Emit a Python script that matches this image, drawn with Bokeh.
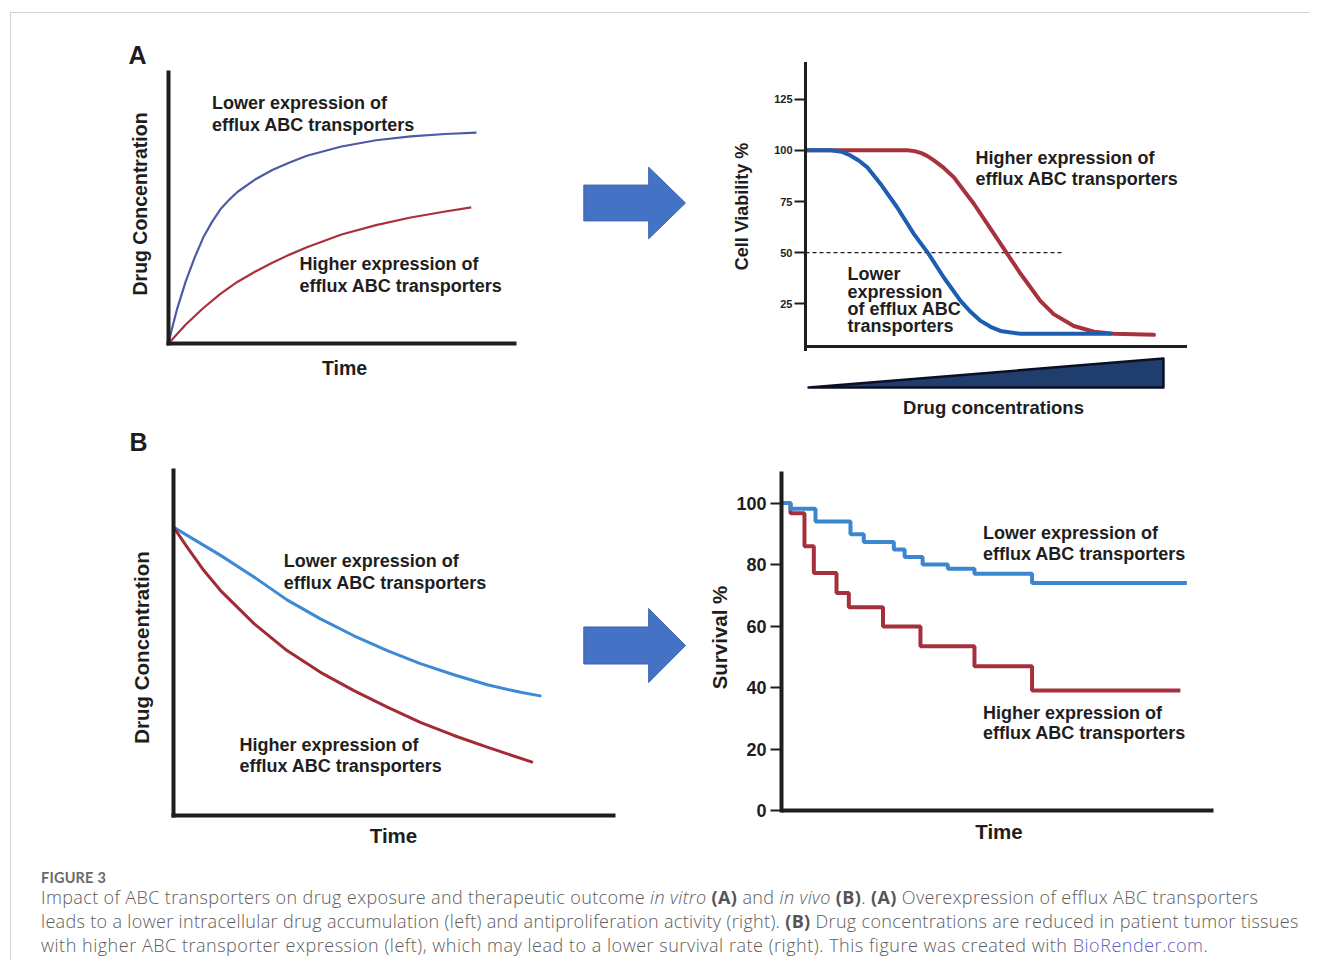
import math
from bokeh.plotting import figure
from bokeh.models import Range1d, Label, FixedTicker, Spacer, Div
from bokeh.layouts import row, column
from bokeh.embed import file_html
from bokeh.resources import INLINE

# ======================= DATA =======================
# Panel A (left): intracellular drug concentration vs time (relative units)
A_TIME_LOWER = [0, 0.1, 0.25, 0.5, 0.75, 1, 1.25, 1.5, 1.75, 2, 2.5, 3, 3.5, 4, 5, 6, 7, 8, 8.9]
A_CONC_LOWER = [0, 0.054, 0.128, 0.23, 0.315, 0.39, 0.447, 0.495, 0.53, 0.56, 0.605, 0.64, 0.668, 0.693, 0.727, 0.75, 0.764, 0.773, 0.778]
A_TIME_HIGHER = [0, 0.5, 1, 1.5, 2, 2.5, 3, 3.5, 4, 5, 6, 7, 8, 8.75]
A_CONC_HIGHER = [0, 0.07, 0.13, 0.183, 0.228, 0.265, 0.298, 0.328, 0.355, 0.402, 0.437, 0.465, 0.487, 0.502]

# Panel A (right): cell viability (%) vs drug concentration (relative units)
AR_CONC_LOWER = [0, 0.66, 0.95, 1.18, 1.4, 1.62, 1.97, 2.41, 2.85, 3.24, 3.64, 4.08, 4.35, 4.61, 4.87, 5.13, 5.66, 8.03]
AR_VIAB_LOWER = [100, 100, 99.3, 97.5, 95.0, 91.8, 83.7, 72.2, 59.2, 49.4, 37.9, 26.5, 21.0, 16.7, 13.8, 11.8, 10.4, 10.4]
AR_CONC_HIGHER = [0, 1.97, 2.68, 2.87, 3.05, 3.2, 3.38, 3.64, 3.90, 4.43, 4.96, 5.31, 5.66, 6.18, 6.53, 7.06, 7.59, 8.11, 9.17]
AR_VIAB_HIGHER = [100, 100, 100, 99.6, 98.6, 97.3, 95.1, 91.4, 86.9, 73.9, 59.2, 49.4, 39.7, 26.5, 20.0, 14.2, 11.4, 10.4, 9.9]
AR_HALF_LINE_CONC = [0, 6.8]
AR_HALF_LINE_VIAB = [50, 50]
AR_TICKS = [25, 50, 75, 100, 125]
AR_WEDGE_CONC = [0.08, 9.42]

# Panel B (left): tumour drug concentration vs time (relative units)
B_TIME_LOWER = [0, 0.31, 1.07, 1.82, 2.58, 3.34, 4.10, 4.86, 5.61, 6.37, 7.13, 7.89, 8.36]
B_CONC_LOWER = [0.836, 0.812, 0.754, 0.692, 0.625, 0.570, 0.521, 0.478, 0.440, 0.408, 0.379, 0.357, 0.346]
B_TIME_HIGHER = [0, 0.31, 0.69, 1.07, 1.83, 2.58, 3.34, 4.10, 4.86, 5.61, 6.37, 7.13, 8.17]
B_CONC_HIGHER = [0.836, 0.778, 0.710, 0.652, 0.556, 0.478, 0.415, 0.362, 0.314, 0.270, 0.232, 0.198, 0.154]

# Panel B (right): Kaplan-Meier survival (%) vs time
BR_TIME_LOWER = [0, 1.25, 4.72, 9.58, 11.43, 15.6, 17.1, 19.6, 23.1, 26.8, 34.8, 56.3]
BR_SURV_LOWER = [100, 98.1, 94.0, 89.8, 87.3, 84.9, 82.4, 80.0, 78.6, 77.0, 74.0, 74.0]
BR_TIME_HIGHER = [0, 1.25, 3.19, 4.49, 7.64, 9.35, 14.1, 19.3, 26.8, 34.8, 55.4]
BR_SURV_HIGHER = [100, 96.7, 85.9, 77.2, 70.7, 66.1, 59.8, 53.4, 46.9, 39.0, 39.0]
BR_TICKS = [0, 20, 40, 60, 80, 100]

LABEL_LOWER = ["Lower expression of", "efflux ABC transporters"]
LABEL_HIGHER = ["Higher expression of", "efflux ABC transporters"]
LABEL_LOWER_AR = ["Lower", "expression", "of efflux ABC", "transporters"]

CAPTION_LINES = [
    'Impact of ABC transporters on drug exposure and therapeutic outcome <i>in vitro</i> <b>(A)</b> and <i>in vivo</i> <b>(B)</b>. <b>(A)</b> Overexpression of efflux ABC transporters',
    'leads to a lower intracellular drug accumulation (left) and antiproliferation activity (right). <b>(B)</b> Drug concentrations are reduced in patient tumor tissues',
    'with higher ABC transporter expression (left), which may lead to a lower survival rate (right). This figure was created with <span class="lnk">BioRender.com</span>.',
]
CAPTION_SPACING = [0.38, 0.33, 0.52]

# ======================= STYLE =======================
FONT = "Liberation Sans"
INK = "#1e1e1e"
ARROW_FILL = "#4472c4"
ARROW_LINE = "#3a63ad"
ARROW_SHAPE_X = [0, 0.638, 0.638, 1, 0.638, 0.638, 0]
ARROW_SHAPE_Y = [0.25, 0.25, 0.5, 0, -0.5, -0.25, -0.25]
BASE_K = 0.37   # baseline correction (fraction of font size)


def scale(p0, v0, p1, v1):
    k = (v1 - v0) / (p1 - p0)
    return lambda p: v0 + (p - p0) * k


def make_panel(ox, oy, w, h, L, T, R, B, sx, sy):
    p = figure(width=w, height=h, title=None,
               x_range=Range1d(sx(L), sx(R)), y_range=Range1d(sy(B), sy(T)),
               min_border_left=L - ox, min_border_right=ox + w - R,
               min_border_top=T - oy, min_border_bottom=oy + h - B,
               output_backend="svg", toolbar_location=None)
    p.xgrid.visible = False
    p.ygrid.visible = False
    p.outline_line_color = None
    p.background_fill_color = "white"
    p.border_fill_color = "white"
    return p


def style_axis(ax, width):
    ax.axis_label = None
    ax.axis_line_color = INK
    ax.axis_line_width = width
    ax.axis_line_cap = "square"
    ax.minor_tick_line_color = None


def no_ticks(ax):
    ax.ticker = FixedTicker(ticks=[])
    ax.major_tick_line_color = None
    ax.major_tick_out = 0
    ax.major_tick_in = 0
    ax.major_label_standoff = 0
    ax.major_label_text_font_size = "0px"


def tick_style(ax, ticks, size, standoff):
    ax.ticker = FixedTicker(ticks=ticks)
    ax.major_tick_out = 11
    ax.major_tick_in = 0
    ax.major_tick_line_width = 2
    ax.major_tick_line_color = INK
    ax.major_label_text_font = FONT
    ax.major_label_text_font_size = size
    ax.major_label_text_font_style = "bold"
    ax.major_label_text_color = INK
    ax.major_label_standoff = standoff


def add_text(p, sx, sy, px, py, text, size=18.0, align="left", rotated=False):
    if rotated:
        p.add_layout(Label(x=sx(px), y=sy(py), text=text, text_font=FONT,
                           text_font_style="bold", text_font_size=f"{size}px",
                           text_color=INK, text_align="center",
                           text_baseline="middle", angle=math.pi / 2))
    else:
        p.add_layout(Label(x=sx(px), y=sy(py - BASE_K * size), text=text, text_font=FONT,
                           text_font_style="bold", text_font_size=f"{size}px",
                           text_color=INK, text_align=align,
                           text_baseline="alphabetic"))


def add_lines(p, sx, sy, px, baselines, lines, size=18.0):
    for py, t in zip(baselines, lines):
        add_text(p, sx, sy, px, py, t, size)


def add_arrow(p, sx, sy, x0, length, yc, height):
    xs = [sx(x0 + s * length) for s in ARROW_SHAPE_X]
    ys = [sy(yc - s * height) for s in ARROW_SHAPE_Y]
    p.patch(xs, ys, fill_color=ARROW_FILL, line_color=ARROW_LINE, line_width=1)


ROW1_T, ROW1_B = 20, 421
ROW2_T, ROW2_B = 432, 858

# ---------- Panel A left ----------
sxa = scale(168, 0, 514, 10)
sya = scale(343, 0, 72, 1)
pAL = make_panel(11, 13, 749, 412, 31, ROW1_T, 760, ROW1_B, sxa, sya)
pAL.line(A_TIME_LOWER, A_CONC_LOWER, line_color="#4c5ba6", line_width=2.2, line_join="round")
pAL.line(A_TIME_HIGHER, A_CONC_HIGHER, line_color="#a8323c", line_width=2.2, line_join="round")
ax = pAL.xaxis[0]
style_axis(ax, 4)
no_ticks(ax)
ax.fixed_location = 0
ax.bounds = (0, 10)
ax = pAL.yaxis[0]
style_axis(ax, 4)
no_ticks(ax)
ax.fixed_location = 0
ax.bounds = (0, 1)
add_text(pAL, sxa, sya, 128, 64, "A", 25)
add_text(pAL, sxa, sya, 139, 203.5, "Drug Concentration", 19.5, rotated=True)
add_text(pAL, sxa, sya, 344, 375, "Time", 19.5, "center")
add_text(pAL, sxa, sya, 741.7, 206, "Cell Viability %", 18, rotated=True)
add_lines(pAL, sxa, sya, 211.5, [109.5, 131], LABEL_LOWER)
add_lines(pAL, sxa, sya, 299, [270, 291.7], LABEL_HIGHER)
add_arrow(pAL, sxa, sya, 583.3, 101.7, 202.5, 71.6)

# ---------- Panel A right ----------
sxr = scale(805, 0, 1185, 10)
syr = scale(354.6, 0, 98.6, 125)
pAR = make_panel(760, 13, 550, 412, 805, ROW1_T, 1200, ROW1_B, sxr, syr)
pAR.line(AR_HALF_LINE_CONC, AR_HALF_LINE_VIAB, line_color=INK, line_width=1.2, line_dash="4 3")
pAR.line(AR_CONC_HIGHER, AR_VIAB_HIGHER, line_color="#a8323c", line_width=4, line_join="round", line_cap="round")
pAR.line(AR_CONC_LOWER, AR_VIAB_LOWER, line_color="#1c5fb2", line_width=4, line_join="round", line_cap="round")
ax = pAR.yaxis[0]
style_axis(ax, 3)
ax.bounds = (syr(349), syr(63))
tick_style(ax, AR_TICKS, "11px", 2)
ax = pAR.xaxis[0]
style_axis(ax, 3)
no_ticks(ax)
ax.fixed_location = syr(346)
ax.bounds = (0, 10)
wx = [AR_WEDGE_CONC[0], AR_WEDGE_CONC[1], AR_WEDGE_CONC[1]]
wy = [syr(387), syr(358), syr(387)]
pAR.patch(wx, wy, fill_color="#1f3e6d", line_color="#0a0f24", line_width=2.5, line_join="round")
add_text(pAR, sxr, syr, 993, 414, "Drug concentrations", 18.5, "center")
add_lines(pAR, sxr, syr, 975, [164, 185.5], LABEL_HIGHER)
add_lines(pAR, sxr, syr, 847, [280, 297.7, 315, 332.3], LABEL_LOWER_AR)

# ---------- Panel B left ----------
sxb = scale(173, 0, 613, 10)
syb = scale(815, 0, 470, 1)
pBL = make_panel(11, 425, 722, 437, 31, ROW2_T, 733, ROW2_B, sxb, syb)
pBL.line(B_TIME_LOWER, B_CONC_LOWER, line_color="#3a8ad6", line_width=3, line_join="round")
pBL.line(B_TIME_HIGHER, B_CONC_HIGHER, line_color="#a32b36", line_width=3, line_join="round")
ax = pBL.xaxis[0]
style_axis(ax, 4)
no_ticks(ax)
ax.fixed_location = 0
ax.bounds = (0, 10)
ax = pBL.yaxis[0]
style_axis(ax, 4)
no_ticks(ax)
ax.fixed_location = 0
ax.bounds = (0, 1)
add_text(pBL, sxb, syb, 129, 451, "B", 25)
add_text(pBL, sxb, syb, 141, 647, "Drug Concentration", 20.5, rotated=True)
add_text(pBL, sxb, syb, 393, 842.7, "Time", 20.5, "center")
add_text(pBL, sxb, syb, 719, 637, "Survival %", 20.5, rotated=True)
add_lines(pBL, sxb, syb, 283.3, [567.3, 589.3], LABEL_LOWER)
add_lines(pBL, sxb, syb, 239, [750.7, 772.3], LABEL_HIGHER)
add_arrow(pBL, sxb, syb, 583.3, 101.7, 645, 74)

# ---------- Panel B right ----------
sxk = scale(781, 0, 1213, 60)
syk = scale(810, 0, 502.5, 100)
pBR = make_panel(733, 425, 577, 437, 781, ROW2_T, 1213, ROW2_B, sxk, syk)
pBR.step(BR_TIME_HIGHER, BR_SURV_HIGHER, mode="after", line_color="#a3303c", line_width=4)
pBR.step(BR_TIME_LOWER, BR_SURV_LOWER, mode="after", line_color="#3a87d0", line_width=4)
ax = pBR.xaxis[0]
style_axis(ax, 4)
no_ticks(ax)
ax.fixed_location = 0
ax.bounds = (0, 60)
ax = pBR.yaxis[0]
style_axis(ax, 4)
ax.bounds = (0, syk(473))
tick_style(ax, BR_TICKS, "18px", 4)
add_text(pBR, sxk, syk, 998.5, 838.3, "Time", 20.5, "center")
add_lines(pBR, sxk, syk, 982.5, [539.3, 560], LABEL_LOWER)
add_lines(pBR, sxk, syk, 982.5, [719, 739.5], LABEL_HIGHER)

# ---------- Caption ----------
caption_body = '<br>'.join(
    f'<span style="letter-spacing:{sp}px">{ln}</span>' for ln, sp in zip(CAPTION_LINES, CAPTION_SPACING)
)
caption_html = (
    '<style>.cap b{font-weight:700;color:#555}.cap .lnk{color:#5b5fc7}</style>'
    '<div class="cap" style="font-family:\'Open Sans\', sans-serif; color:#5c5c5c; padding-left:30px; white-space:nowrap;">'
    '<div style="font-family:Lato, sans-serif; font-size:14.5px; font-weight:700; color:#6a6a6a; line-height:14px; margin-top:9px; letter-spacing:0.2px;">FIGURE 3</div>'
    '<div style="font-size:18px; font-weight:300; line-height:24px;">'
    + caption_body +
    '</div></div>'
)
caption = Div(text=caption_html, width=1299, height=98, margin=0)

BORDER = "#d3d3d3"
content = column(row(pAL, pAR), row(pBL, pBR), caption)
page = column(
    Spacer(width=1310, height=12, margin=0),
    row(Spacer(width=10, height=948, margin=0),
        column(Div(text="", width=1300, height=1, margin=0, styles={"background-color": BORDER}),
               row(Div(text="", width=1, height=947, margin=0, styles={"background-color": BORDER}),
                   content))),
)

open("out.html", "w").write(file_html(page, INLINE))
